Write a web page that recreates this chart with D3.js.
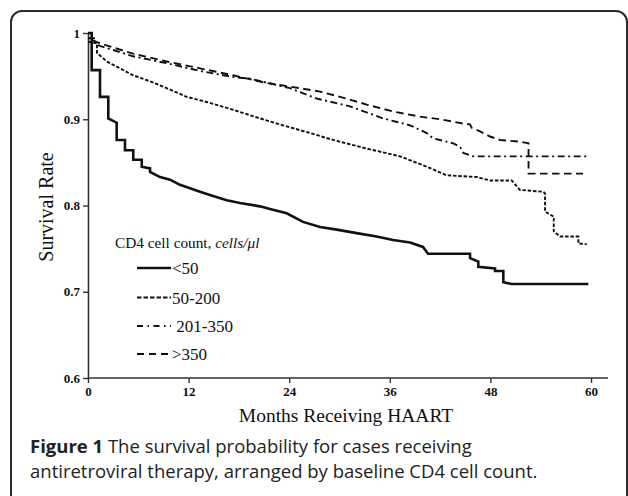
<!DOCTYPE html>
<html>
<head>
<meta charset="utf-8">
<script src="https://cdn.jsdelivr.net/npm/d3@7"></script>
<style>
  body { margin: 0; background: #fff; }
  svg { display: block; }
</style>
</head>
<body>
<svg id="chart" width="628" height="496"></svg>
<script>
// survival curves: months on HAART, survival rate
// (a repeated month is a vertical drop of the curve)
var lt50Months = [0, 0.44, 0.44, 1.43, 1.43, 2.42, 2.42, 3.42, 3.42, 4.41, 4.41, 5.40, 5.40, 6.41, 6.41, 7.40, 7.40, 8.59, 9.78, 10.97, 12.17, 13.36, 14.91, 16.55, 18.13, 20.52, 21.71, 23.70, 25.65, 27.68, 29.67, 32.05, 34.44, 36.38, 38.41, 39.96, 40.56, 45.57, 45.57, 46.56, 46.56, 48.55, 48.55, 49.54, 49.54, 50.54, 59.68];
var lt50Values = [1.000, 1.000, 0.957, 0.957, 0.926, 0.926, 0.901, 0.896, 0.876, 0.876, 0.864, 0.864, 0.853, 0.853, 0.845, 0.843, 0.839, 0.833, 0.830, 0.824, 0.820, 0.816, 0.811, 0.806, 0.803, 0.799, 0.796, 0.791, 0.781, 0.775, 0.772, 0.768, 0.764, 0.760, 0.757, 0.752, 0.744, 0.744, 0.739, 0.735, 0.729, 0.727, 0.724, 0.724, 0.711, 0.709, 0.709];

var m50Months = [0, 1.07, 1.07, 2.23, 3.82, 5.37, 7.40, 9.39, 11.77, 14.17, 17.30, 20.52, 23.26, 26.48, 29.23, 33.25, 37.23, 40.40, 42.79, 46.37, 47.95, 50.54, 51.53, 54.31, 54.52, 54.52, 55.56, 55.56, 56.31, 58.49, 58.49, 59.49];
var m50Values = [0.990, 0.988, 0.977, 0.967, 0.959, 0.951, 0.944, 0.936, 0.926, 0.920, 0.911, 0.901, 0.893, 0.884, 0.876, 0.866, 0.857, 0.845, 0.835, 0.833, 0.829, 0.829, 0.818, 0.816, 0.814, 0.793, 0.787, 0.770, 0.764, 0.764, 0.756, 0.755];

var m201Months = [0, 0.84, 0.84, 1.43, 5.37, 9.39, 13.36, 17.30, 19.32, 24.10, 27.28, 31.25, 35.19, 38.41, 40.40, 41.15, 43.58, 44.38, 44.77, 45.96, 59.49];
var m201Values = [0.994, 0.994, 0.987, 0.985, 0.973, 0.965, 0.956, 0.949, 0.947, 0.936, 0.924, 0.915, 0.901, 0.893, 0.884, 0.878, 0.872, 0.868, 0.861, 0.857, 0.857];

var gt350Months = [0, 0.48, 0.48, 1.43, 5.37, 9.39, 13.36, 17.30, 21.32, 25.29, 27.68, 30.06, 33.25, 36.38, 39.60, 41.99, 44.77, 45.57, 45.77, 46.76, 47.95, 49.15, 51.53, 52.55, 52.55, 59.05];
var gt350Values = [1.000, 1.000, 0.992, 0.988, 0.976, 0.967, 0.959, 0.951, 0.942, 0.936, 0.932, 0.926, 0.917, 0.909, 0.903, 0.900, 0.895, 0.894, 0.890, 0.886, 0.880, 0.876, 0.874, 0.872, 0.837, 0.837];

var seriesNames = ["<50", "50-200", "201-350", ">350"];
var legendLabels = ["<50", "50-200", " 201-350", ">350"];
var xTicks = [0, 12, 24, 36, 48, 60];
var yTicks = [0.6, 0.7, 0.8, 0.9, 1];

var svg = d3.select("#chart");

// frame round the figure
svg.append("rect")
  .attr("x", 11).attr("y", 11)
  .attr("width", 616).attr("height", 530)
  .attr("rx", 11)
  .attr("fill", "none")
  .attr("stroke", "#2b2b2b")
  .attr("stroke-width", 2);

var x = d3.scaleLinear().domain([0, 60]).range([88, 591]);
var y = d3.scaleLinear().domain([0.6, 1]).range([378, 33]);

var serif = "'Liberation Serif', 'Times New Roman', serif";

var xAxis = svg.append("g")
  .attr("transform", "translate(0,378)")
  .call(d3.axisBottom(x).tickValues(xTicks).tickSize(5).tickPadding(4).tickSizeOuter(0));
xAxis.select(".domain").attr("d", "M88,0H608");

var yAxis = svg.append("g")
  .attr("transform", "translate(88,0)")
  .call(d3.axisLeft(y).tickValues(yTicks).tickSize(5).tickPadding(3).tickSizeOuter(0)
    .tickFormat(function(d) { return d === 1 ? "1" : d3.format(".1f")(d); }));

svg.selectAll(".domain").attr("stroke", "#333").attr("stroke-width", 1.6);
svg.selectAll(".tick line").attr("stroke", "#333").attr("stroke-width", 1.4);
svg.selectAll(".tick text")
  .attr("fill", "#111")
  .style("font-family", serif)
  .style("font-weight", "bold")
  .style("font-size", "13px");

// axis titles
svg.append("text")
  .attr("transform", "translate(53,207) rotate(-90)")
  .attr("text-anchor", "middle")
  .style("font-family", serif)
  .style("font-size", "20px")
  .attr("fill", "#111")
  .text("Survival Rate");

svg.append("text")
  .attr("x", 346).attr("y", 422)
  .attr("text-anchor", "middle")
  .style("font-family", serif)
  .style("font-size", "19.5px")
  .attr("fill", "#111")
  .text("Months Receiving HAART");

// curves
var styles = [
  { width: 2.6, dash: null },
  { width: 1.9, dash: "3.5,1.8" },
  { width: 1.9, dash: "7,3.5,2,3.5" },
  { width: 1.9, dash: "7.5,4.5" }
];
var legendDash = [null, "4.5,2", "6,4.5,1.5,4.5", "7,5"];

var series = [
  { months: lt50Months, values: lt50Values },
  { months: m50Months, values: m50Values },
  { months: m201Months, values: m201Values },
  { months: gt350Months, values: gt350Values }
];

var line = d3.line()
  .x(function(d) { return x(d[0]); })
  .y(function(d) { return y(d[1]); });

series.forEach(function(s, i) {
  var pts = s.months.map(function(m, j) { return [m, s.values[j]]; });
  svg.append("path")
    .datum(pts)
    .attr("d", line)
    .attr("fill", "none")
    .attr("stroke", "#111")
    .attr("stroke-width", styles[i].width)
    .attr("stroke-linejoin", "miter")
    .attr("stroke-dasharray", styles[i].dash);
});

// legend
svg.append("text")
  .attr("x", 115).attr("y", 248)
  .style("font-family", serif)
  .style("font-size", "15.3px")
  .attr("fill", "#111")
  .html("CD4 cell count, <tspan font-style='italic'>cells/μl</tspan>");

var legend = svg.append("g");
var rowY = [268, 297.5, 326, 354];
seriesNames.forEach(function(name, i) {
  legend.append("line")
    .attr("x1", 137).attr("x2", 171)
    .attr("y1", rowY[i]).attr("y2", rowY[i])
    .attr("stroke", "#111")
    .attr("stroke-width", i === 0 ? 2.4 : 1.9)
    .attr("stroke-dasharray", legendDash[i]);
  legend.append("text")
    .attr("x", 172).attr("y", rowY[i] + 6)
    .style("font-family", serif)
    .style("font-size", "17px")
    .style("white-space", "pre")
    .attr("fill", "#111")
    .text(legendLabels[i]);
});

// caption
var sans = "'Open Sans', 'Noto Sans', sans-serif";
var cap = svg.append("text")
  .style("font-family", sans)
  .style("font-size", "18.5px")
  .attr("fill", "#222");
cap.append("tspan").attr("x", 30).attr("y", 453)
  .style("font-weight", "bold").text("Figure 1");
cap.append("tspan").text(" The survival probability for cases receiving");
cap.append("tspan").attr("x", 30).attr("y", 478)
  .text("antiretroviral therapy, arranged by baseline CD4 cell count.");
</script>
</body>
</html>
